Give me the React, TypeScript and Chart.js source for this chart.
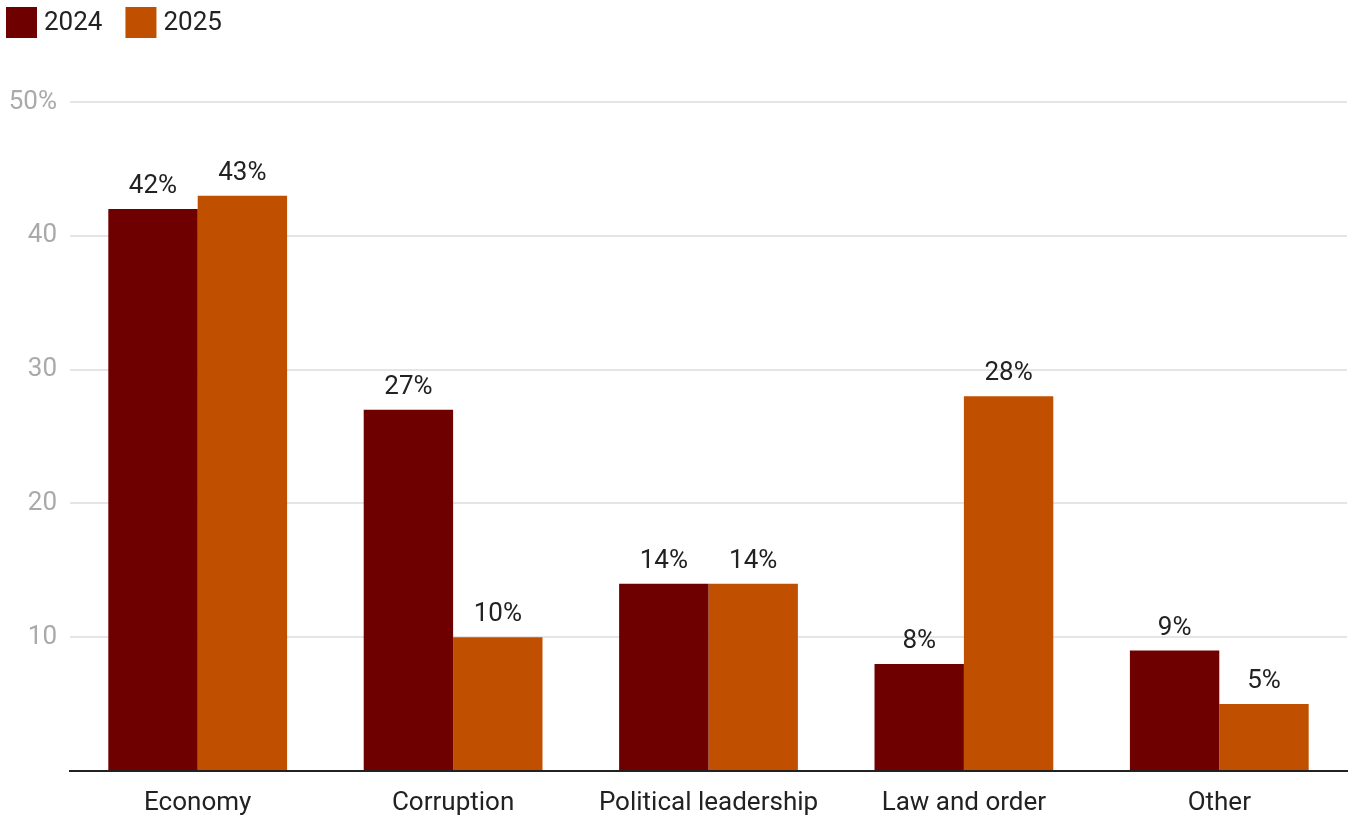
import React, { useEffect, useRef } from "react";
import { Chart, registerables } from "chart.js";

Chart.register(...registerables);

const categories = ["Economy", "Corruption", "Political leadership", "Law and order", "Other"];
const series2024 = [42, 27, 14, 8, 9];
const series2025 = [43, 10, 14, 28, 5];
const seriesLabels = ["2024", "2025"];
const yTicks = [0, 10, 20, 30, 40, 50];

const FONT = "Roboto, 'Noto Sans', sans-serif";

const valueLabels = {
  id: "valueLabels",
  afterDatasetsDraw(chart: any) {
    const ctx = chart.ctx;
    ctx.save();
    ctx.font = `26px ${FONT}`;
    ctx.fillStyle = "#222";
    ctx.textAlign = "center";
    ctx.textBaseline = "alphabetic";
    chart.data.datasets.forEach((ds: any, i: number) => {
      const meta = chart.getDatasetMeta(i);
      meta.data.forEach((bar: any, j: number) => {
        ctx.fillText(`${ds.data[j]}%`, bar.x, bar.y - 16);
      });
    });
    ctx.restore();
  },
};

const topLegend = {
  id: "topLegend",
  afterDraw(chart: any) {
    const ctx = chart.ctx;
    ctx.save();
    ctx.font = `26px ${FONT}`;
    ctx.textBaseline = "middle";
    ctx.textAlign = "left";
    let x = 6;
    const y = 7;
    const box = 31;
    chart.data.datasets.forEach((ds: any) => {
      ctx.fillStyle = ds.backgroundColor;
      ctx.fillRect(x, y, box, box);
      x += box + 7;
      ctx.fillStyle = "#222";
      ctx.fillText(ds.label, x, y + box / 2 + 1);
      x += ctx.measureText(ds.label).width + 23;
    });
    ctx.restore();
  },
};

export default function App() {
  const ref = useRef<HTMLCanvasElement>(null);
  useEffect(() => {
    document.body.style.margin = "0";
    const chart = new Chart(ref.current!, {
      type: "bar",
      data: {
        labels: categories,
        datasets: [
          { label: seriesLabels[0], data: series2024, backgroundColor: "#6e0000" },
          { label: seriesLabels[1], data: series2025, backgroundColor: "#c05000" },
        ],
      },
      options: {
        animation: false,
        responsive: false,
        maintainAspectRatio: false,
        layout: { padding: { top: 102, right: 4, left: 0, bottom: 0 } },
        datasets: { bar: { categoryPercentage: 0.7, barPercentage: 1.0 } } as any,
        plugins: {
          legend: { display: false },
          tooltip: { enabled: false },
        },
        scales: {
          x: {
            grid: { display: false },
            border: { color: "#222", width: 2 },
            ticks: { color: "#222", font: { size: 26, family: FONT }, padding: 9 },
            afterFit: (s: any) => { s.height = 46; },
          },
          y: {
            min: yTicks[0],
            max: yTicks[yTicks.length - 1],
            afterBuildTicks: (s: any) => { s.ticks = yTicks.map((v) => ({ value: v })); },
            grid: { color: "#e5e5e5", lineWidth: 2, drawTicks: false },
            border: { display: false },
            ticks: {
              color: "#aaa",
              padding: 13,
              font: { size: 26, family: FONT },
              callback: (v: any) => (v === 0 ? "" : v === 50 ? "50%" : String(v)),
            },
            afterFit: (s: any) => { s.width = 70; },
          },
        },
      },
      plugins: [valueLabels, topLegend],
    });
    return () => chart.destroy();
  }, []);
  return <canvas ref={ref} width={1351} height={817} style={{ display: "block" }} />;
}
